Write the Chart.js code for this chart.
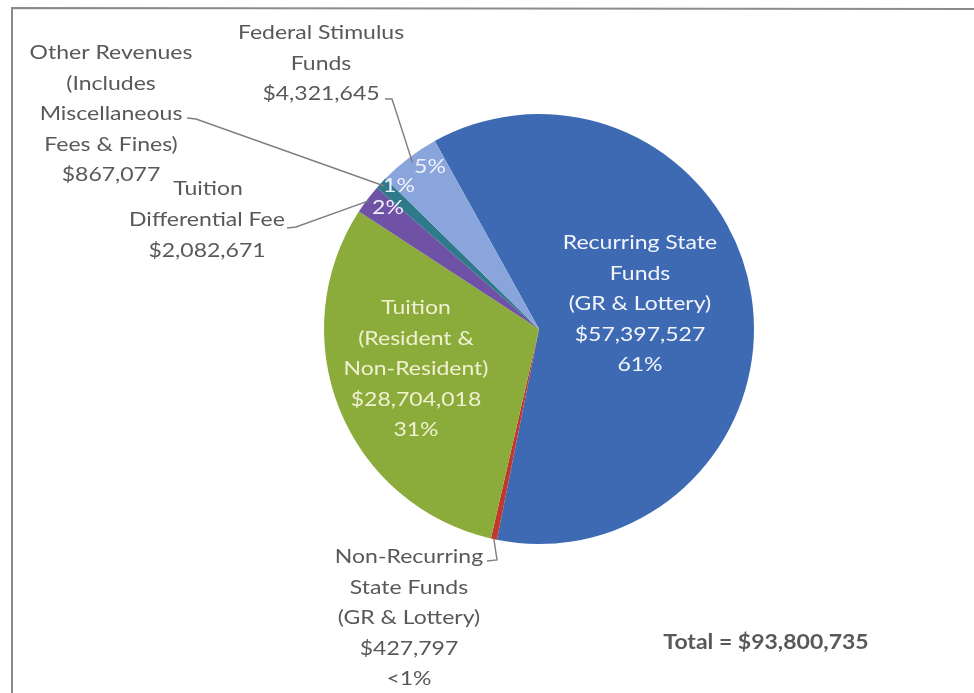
<!DOCTYPE html>
<html>
<head>
<meta charset="utf-8">
<script src="https://cdn.jsdelivr.net/npm/chart.js@4"></script>
<style>
  html, body { margin: 0; padding: 0; background: #ffffff; }
  #wrap { width: 974px; height: 693px; position: relative; }
</style>
</head>
<body>
<div id="wrap"><canvas id="c" width="974" height="693"></canvas></div>
<script>
// ---- Data ----
const categories = [
  'Recurring State Funds (GR & Lottery)',
  'Non-Recurring State Funds (GR & Lottery)',
  'Tuition (Resident & Non-Resident)',
  'Tuition Differential Fee',
  'Other Revenues (Includes Miscellaneous Fees & Fines)',
  'Federal Stimulus Funds'
];
const amounts = [57397527, 427797, 28704018, 2082671, 867077, 4321645];
const amountLabels = ['$57,397,527', '$427,797', '$28,704,018', '$2,082,671', '$867,077', '$4,321,645'];
const percentLabels = ['61%', '<1%', '31%', '2%', '1%', '5%'];
const totalLabel = 'Total = $93,800,735';
const sliceColors = ['#3d6ab3', '#c0392f', '#8bab3a', '#6f51a5', '#2e7a8a', '#8aa5db'];

// label text blocks (lines) and their placement
const labelBlocks = [
  { lines: ['Recurring State', 'Funds', '(GR & Lottery)', amountLabels[0], percentLabels[0]], x: 640, y: 243, color: '#f3f5fb' },
  { lines: ['Non-Recurring', 'State Funds', '(GR & Lottery)', amountLabels[1], percentLabels[1]], x: 409, y: 557, color: '#595959' },
  { lines: ['Tuition', '(Resident &', 'Non-Resident)', amountLabels[2], percentLabels[2]], x: 416, y: 308, color: '#eff1d2' },
  { lines: ['Differential Fee', amountLabels[3]], x: 207, y: 220, color: '#595959' },
  { lines: ['Other Revenues', '(Includes', 'Miscellaneous', 'Fees & Fines)', amountLabels[4]], x: 111, y: 53, color: '#595959' },
  { lines: ['Federal Stimulus', 'Funds', amountLabels[5]], x: 321, y: 33, color: '#595959' }
];
const extraTexts = [
  { text: 'Tuition', x: 208, y: 189, color: '#595959' }
];
const pctInside = [
  { idx: 5, x: 430, y: 167 },
  { idx: 4, x: 399, y: 186 },
  { idx: 3, x: 388, y: 208 }
];
// leader lines: text-side points, then ends on slice edge
const leaders = [
  { idx: 5, pts: [[385, 99], [392, 99]], rf: 0.97 },
  { idx: 4, pts: [[187, 118], [196, 119]], rf: 0.98 },
  { idx: 3, pts: [[287, 228], [296, 227]], rf: 0.99 },
  { idx: 1, pts: [[487, 561], [497, 560]], rf: 1.0 }
];

const FONT = 'Lato, "Open Sans", sans-serif';
const XSCALE = 1.15;

function wideText(ctx, t, x, y) {
  ctx.save();
  ctx.translate(x, y);
  ctx.scale(XSCALE, 1);
  ctx.fillText(t, 0, 0);
  ctx.restore();
}

const overlay = {
  id: 'overlay',
  afterDraw(chart) {
    const ctx = chart.ctx;
    const arcs = chart.getDatasetMeta(0).data;
    ctx.save();
    // frame
    ctx.strokeStyle = '#8c8c8c';
    ctx.lineWidth = 2;
    ctx.beginPath();
    ctx.moveTo(12, 693);
    ctx.lineTo(12, 8);
    ctx.lineTo(974, 9);
    ctx.stroke();

    // leader lines
    ctx.strokeStyle = '#7f7f7f';
    ctx.lineWidth = 1.4;
    leaders.forEach(l => {
      const a = arcs[l.idx];
      const mid = (a.startAngle + a.endAngle) / 2;
      const r = a.outerRadius * l.rf;
      ctx.beginPath();
      ctx.moveTo(l.pts[0][0], l.pts[0][1]);
      for (let i = 1; i < l.pts.length; i++) ctx.lineTo(l.pts[i][0], l.pts[i][1]);
      ctx.lineTo(a.x + r * Math.cos(mid), a.y + r * Math.sin(mid));
      ctx.stroke();
    });

    // text
    ctx.textAlign = 'center';
    ctx.textBaseline = 'middle';
    ctx.font = '20px ' + FONT;
    labelBlocks.forEach(b => {
      ctx.fillStyle = b.color;
      b.lines.forEach((t, i) => wideText(ctx, t, b.x, b.y + i * 30.5));
    });
    extraTexts.forEach(t => {
      ctx.fillStyle = t.color;
      wideText(ctx, t.text, t.x, t.y);
    });
    ctx.fillStyle = '#f1f2fb';
    pctInside.forEach(p => wideText(ctx, percentLabels[p.idx], p.x, p.y));

    ctx.font = 'bold 20px ' + FONT;
    ctx.fillStyle = '#595959';
    wideText(ctx, totalLabel, 766, 643);
    ctx.restore();
  }
};

new Chart(document.getElementById('c'), {
  type: 'pie',
  data: {
    labels: categories,
    datasets: [{
      data: amounts,
      backgroundColor: sliceColors,
      borderWidth: 0
    }]
  },
  options: {
    responsive: false,
    devicePixelRatio: 1,
    animation: false,
    rotation: -29,
    layout: { padding: { left: 324, right: 220, top: 114, bottom: 149 } },
    plugins: {
      legend: { display: false },
      tooltip: { enabled: false }
    }
  },
  plugins: [overlay]
});
</script>
</body>
</html>
